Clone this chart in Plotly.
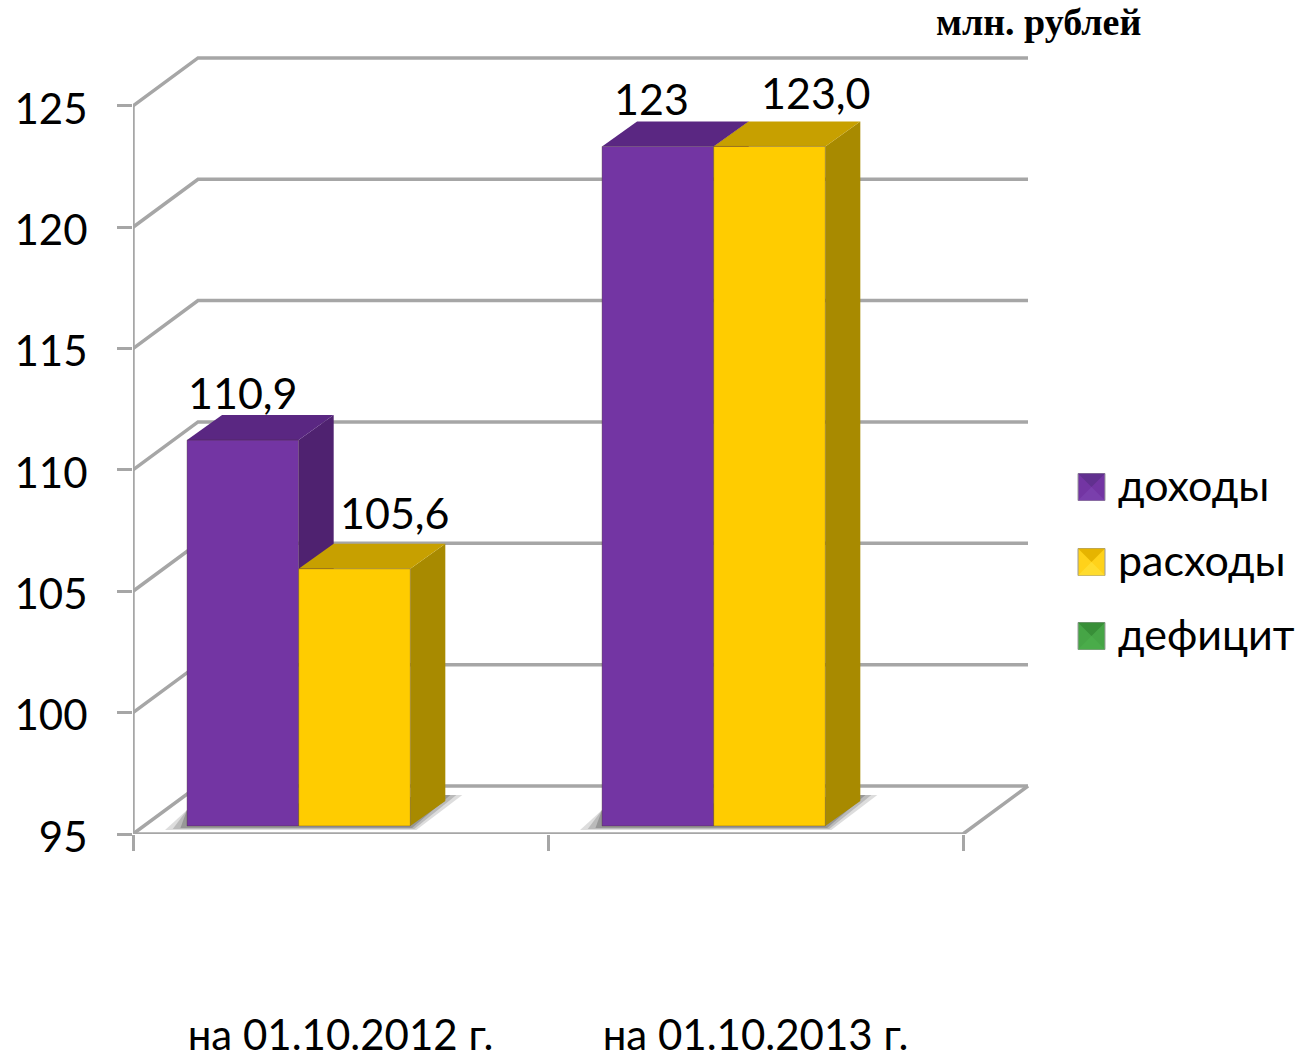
import plotly.graph_objects as go

# -------------------------
# Data
# -------------------------
periods = ["на 01.10.2012 г.", "на 01.10.2013 г."]
income = [110.9, 123]
expenses = [105.6, 123.0]
deficit = [None, None]
income_labels = ["110,9", "123"]
expense_labels = ["105,6", "123,0"]
series_names = ["доходы", "расходы", "дефицит"]
y_ticks = [95, 100, 105, 110, 115, 120, 125]

# -------------------------
# Page geometry (pixels)
# -------------------------
W, H = 1307, 1059
PLOT_L, PLOT_R, PLOT_T, PLOT_B = 133, 1029, 55, 834
PX_PER_CAT = 415.0
PX_PER_UNIT = 24.27
Y_MIN = 95

FONT = "Lato, 'Open Sans', sans-serif"
TICK_SIZE = 42
LABEL_SIZE = 43
LEGEND_SIZE = 43
GRID = "#a6a6a6"

FRONT = ["#7335a3", "#ffcc00", "#3f9f3f"]
TOP = ["#5a2782", "#c7a000"]
SIDE = ["#4f2270", "#a88a00"]


def dx(px):
    return px / PX_PER_CAT


def dy(px):
    return px / PX_PER_UNIT


# box depth and how far the bars sit off the front edge of the floor
WALL_DX, WALL_DY = dx(65), dy(48)
BAR_DX, BAR_DY = dx(35), dy(25)
LIFT = dy(8)
BAR_GAP = 0.193
BAR_W = (1 - BAR_GAP) / 3
X_CENTERS = [0.5 + dx(14), 1.5 + dx(14)]

fig = go.Figure()


def line(x, y, width=3.5, color=GRID):
    fig.add_trace(go.Scatter(x=x, y=y, mode="lines", line=dict(color=color, width=width),
                             hoverinfo="skip", showlegend=False))


def poly(x, y, color, opacity=1.0):
    fig.add_trace(go.Scatter(x=x, y=y, mode="lines", fill="toself", fillcolor=color,
                             line=dict(width=0), opacity=opacity,
                             hoverinfo="skip", showlegend=False))


# -------------------------
# Walls and floor
# -------------------------
for v in y_ticks:
    line([0, WALL_DX, 2 + WALL_DX], [v, v + WALL_DY, v + WALL_DY])
line([0, 0], [y_ticks[0], y_ticks[-1]])
line([0, 2, 2 + WALL_DX], [Y_MIN, Y_MIN, Y_MIN + WALL_DY])

# -------------------------
# Shadows on the floor
# -------------------------
for xc in X_CENTERS:
    x0 = xc - 1.5 * BAR_W
    x1 = xc + 0.5 * BAR_W
    b = Y_MIN + LIFT
    for g, op in [(1.0, 0.2), (0.65, 0.25), (0.3, 0.35)]:
        poly([x0 - dx(22 * g), x1 + dx(6 * g), x1 + BAR_DX + dx(17 * g), x1 + BAR_DX, x0],
             [b - dy(3 * g + 1), b - dy(3 * g + 1), b + BAR_DY + dy(6), b + BAR_DY + dy(6), b + dy(16)],
             "#555555", op)

# -------------------------
# Side and top faces
# -------------------------
for k, values in enumerate([income, expenses]):
    for xc, v in zip(X_CENTERS, values):
        x1 = xc - 1.5 * BAR_W + (k + 1) * BAR_W
        poly([x1, x1 + BAR_DX, x1 + BAR_DX, x1],
             [Y_MIN + LIFT, Y_MIN + LIFT + BAR_DY, v + LIFT + BAR_DY, v + LIFT], SIDE[k])
for k, values in enumerate([income, expenses]):
    for xc, v in zip(X_CENTERS, values):
        x0 = xc - 1.5 * BAR_W + k * BAR_W
        x1 = x0 + BAR_W
        poly([x0, x1, x1 + BAR_DX, x0 + BAR_DX],
             [v + LIFT, v + LIFT, v + LIFT + BAR_DY, v + LIFT + BAR_DY], TOP[k])

# -------------------------
# Front faces (overlay axes so they stay above the scatter faces)
# -------------------------
for k, values in enumerate([income, expenses, deficit]):
    heights = [None if v is None else v - Y_MIN for v in values]
    fig.add_trace(go.Bar(x=X_CENTERS, y=heights, base=Y_MIN + LIFT, name=series_names[k],
                         marker=dict(color=FRONT[k], line=dict(color="rgba(70,50,40,0.35)", width=1)),
                         xaxis="x2", yaxis="y2", showlegend=False))

# -------------------------
# Data labels
# -------------------------
label_offsets = [[(0, 48), (-6, 48)], [(40, 56), (46, 54)]]
annotations = []
for k, (values, labels) in enumerate([(income, income_labels), (expenses, expense_labels)]):
    for j, (xc, v, text) in enumerate(zip(X_CENTERS, values, labels)):
        xs, ys = label_offsets[k][j]
        annotations.append(dict(x=xc - BAR_W + k * BAR_W, y=v + LIFT, xref="x", yref="y", text=text,
                                showarrow=False, xshift=xs, yshift=ys,
                                font=dict(family=FONT, size=LABEL_SIZE, color="black")))


# -------------------------
# Legend and unit note (page pixels -> paper coordinates)
# -------------------------
def px(x):
    return (x - PLOT_L) / (PLOT_R - PLOT_L)


def py(y):
    return (PLOT_B - y) / (PLOT_B - PLOT_T)


legend_rows = [487, 562, 636]
legend_light = ["#7a3fac", "#ffdc2e", "#4aac4a"]
legend_dark = ["#61308f", "#e6b400", "#388f38"]
legend_mid = ["#7335a3", "#ffd21a", "#46a546"]
shapes = []
for name, yc, light, dark, mid in zip(series_names, legend_rows, legend_light, legend_dark, legend_mid):
    s = 13.5
    x0, x1, y0, y1 = px(1091.5 - s), px(1091.5 + s), py(yc + s), py(yc - s)
    xm, ym = px(1091.5), py(yc)
    shapes.append(dict(type="rect", xref="paper", yref="paper", x0=x0, x1=x1, y0=y0, y1=y1,
                       fillcolor=mid, line=dict(color="#9a9a9a", width=1), layer="above"))
    for (a, b, c), col in [(((x0, y1), (x1, y1), (xm, ym)), dark), (((x0, y0), (x1, y0), (xm, ym)), light)]:
        path = f"M{a[0]},{a[1]} L{b[0]},{b[1]} L{c[0]},{c[1]} Z"
        shapes.append(dict(type="path", xref="paper", yref="paper", path=path,
                           fillcolor=col, line=dict(width=0), layer="above"))
    annotations.append(dict(x=px(1116), y=py(yc - 3), xref="paper", yref="paper", text=name,
                            xanchor="left", yanchor="middle", showarrow=False,
                            font=dict(family=FONT, size=LEGEND_SIZE, color="black")))

annotations.append(dict(x=px(1038), y=py(22), xref="paper", yref="paper", text="<b>млн. рублей</b>",
                        showarrow=False, xanchor="center", yanchor="middle",
                        font=dict(family="'Liberation Serif', serif", size=38, color="black")))

# -------------------------
# Layout
# -------------------------
x_range = [0, (PLOT_R - PLOT_L) / PX_PER_CAT]
y_range = [Y_MIN, Y_MIN + (PLOT_B - PLOT_T) / PX_PER_UNIT]

fig.update_layout(
    width=W,
    height=H,
    autosize=False,
    margin=dict(l=PLOT_L, r=W - PLOT_R, t=PLOT_T, b=H - PLOT_B, pad=0),
    paper_bgcolor="white",
    plot_bgcolor="white",
    barmode="group",
    bargap=BAR_GAP,
    bargroupgap=0,
    showlegend=False,
    annotations=annotations,
    shapes=shapes,
    xaxis=dict(
        automargin=False,
        range=x_range,
        tickmode="array",
        tickvals=[0.5, 1.5],
        ticktext=periods,
        ticks="",
        ticklabelstandoff=173,
        showgrid=False,
        zeroline=False,
        showline=False,
        tickfont=dict(family=FONT, size=TICK_SIZE, color="black"),
        minor=dict(tickmode="array", tickvals=[0, 1, 2], ticks="outside", ticklen=16,
                   tickwidth=3, tickcolor=GRID, showgrid=False),
    ),
    yaxis=dict(
        automargin=False,
        range=y_range,
        tickmode="array",
        tickvals=y_ticks,
        ticks="outside",
        ticklen=15,
        tickwidth=3,
        tickcolor=GRID,
        ticklabelstandoff=21,
        ticklabelshift=3,
        showgrid=False,
        zeroline=False,
        showline=False,
        tickfont=dict(family=FONT, size=TICK_SIZE, color="black"),
    ),
    xaxis2=dict(range=x_range, overlaying="x", visible=False),
    yaxis2=dict(range=y_range, overlaying="y", visible=False),
)

fig.write_html("out.html", config=dict(displayModeBar=False),
               post_script="document.body.style.margin='0';")
